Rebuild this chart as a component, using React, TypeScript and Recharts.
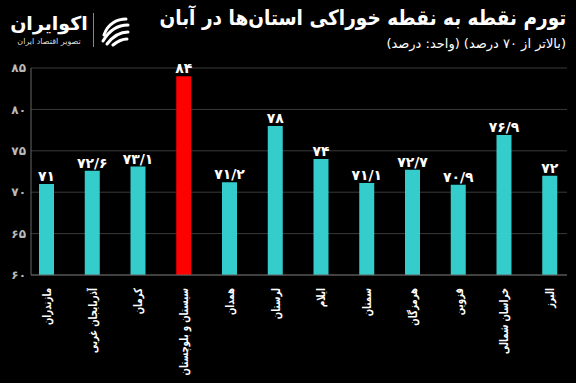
import { BarChart, Bar, XAxis, YAxis, CartesianGrid, Cell, LabelList } from 'recharts'

const provinces = [
  'مازندران',
  'آذربایجان غربی',
  'کرمان',
  'سیستان و بلوچستان',
  'همدان',
  'لرستان',
  'ایلام',
  'سمنان',
  'هرمزگان',
  'قزوین',
  'خراسان شمالی',
  'البرز',
]
const inflation = [71, 72.6, 73.1, 84, 71.2, 78, 74, 71.1, 72.7, 70.9, 76.9, 72]
const yTicks = [60, 65, 70, 75, 80, 85]
const highlight = 'سیستان و بلوچستان'

const TEAL = '#35cccc'
const RED = '#ff0000'
const FONT = '"DejaVu Sans", sans-serif'

// ارقام فارسی، ممیز با «/»
function toFa(v: number | string): string {
  return String(v)
    .replace(/\./g, '/')
    .replace(/[0-9]/g, (d) => '۰۱۲۳۴۵۶۷۸۹'[Number(d)])
}

const data = provinces.map((name, i) => ({ name, value: inflation[i] }))

// برچسب عمودی، کمی فشرده در طول تا نام‌های بلند جا شوند
function ProvinceTick(props: any) {
  const { x, y, payload } = props
  return (
    <text
      transform={`translate(${x},${y + 5}) rotate(-90) scale(0.75,1)`}
      textAnchor="end"
      dominantBaseline="central"
      fill="#ffffff"
      fontSize={11.5}
      fontWeight="bold"
      fontFamily={FONT}
    >
      {payload.value}
    </text>
  )
}

function Logo() {
  return (
    <div style={{ position: 'absolute', left: 8, top: 10, width: 125, height: 40 }}>
      <div
        style={{
          position: 'absolute',
          left: 0,
          top: 0,
          width: 82,
          textAlign: 'center',
          color: '#fff',
          fontFamily: FONT,
          fontWeight: 'bold',
          fontSize: 19,
          lineHeight: '26px',
          direction: 'rtl',
        }}
      >
        اکوایران
      </div>
      <div
        style={{
          position: 'absolute',
          left: 0,
          top: 27,
          width: 82,
          textAlign: 'center',
          color: '#ddd',
          fontFamily: FONT,
          fontSize: 8,
          direction: 'rtl',
        }}
      >
        تصویر اقتصاد ایران
      </div>
      <div style={{ position: 'absolute', left: 85, top: 3, width: 1, height: 34, background: '#888' }} />
      <svg style={{ position: 'absolute', left: 90, top: 3 }} width={34} height={34} viewBox="0 0 34 34">
        <path d="M6 22 C10 10, 20 6, 28 6" stroke="#fff" strokeWidth={3} fill="none" strokeLinecap="round" />
        <path d="M5 28 C12 16, 22 12, 30 12" stroke="#fff" strokeWidth={3} fill="none" strokeLinecap="round" />
        <path d="M9 31 C16 22, 24 19, 30 19" stroke="#fff" strokeWidth={3} fill="none" strokeLinecap="round" />
        <path d="M15 32 C20 28, 26 26, 29 26" stroke="#fff" strokeWidth={3} fill="none" strokeLinecap="round" />
      </svg>
    </div>
  )
}

export default function App() {
  return (
    <div
      style={{
        position: 'absolute',
        left: 0,
        top: 0,
        width: 576,
        height: 383,
        background: '#000',
        overflow: 'hidden',
      }}
    >
      <div
        style={{
          position: 'absolute',
          right: 10,
          top: 6,
          color: '#fff',
          fontFamily: FONT,
          fontWeight: 'bold',
          fontSize: 21,
          direction: 'rtl',
          whiteSpace: 'nowrap',
          transform: 'scaleX(0.88)',
          transformOrigin: 'right center',
        }}
      >
        تورم نقطه به نقطه خوراکی استان‌ها در آبان
      </div>
      <div
        style={{
          position: 'absolute',
          right: 10,
          top: 36,
          color: '#fff',
          fontFamily: FONT,
          fontSize: 13,
          direction: 'rtl',
          whiteSpace: 'nowrap',
        }}
      >
        (بالاتر از ۷۰ درصد) (واحد: درصد)
      </div>
      <Logo />
      <div style={{ position: 'absolute', left: 0, top: 0 }}>
        <BarChart width={576} height={383} data={data} margin={{ top: 68, right: 9, left: 0, bottom: 0 }}>
          <CartesianGrid vertical={false} stroke="#3a3a3a" />
          <XAxis
            dataKey="name"
            interval={0}
            height={108}
            tick={<ProvinceTick />}
            tickLine={false}
            axisLine={{ stroke: '#666' }}
            padding={{ left: -7, right: -6 }}
          />
          <YAxis
            domain={[60, 85]}
            ticks={yTicks}
            width={31}
            tickSize={0}
            tickMargin={5}
            tickFormatter={(v: number) => toFa(v)}
            tick={{ fill: '#bbbbbb', fontSize: 12, fontFamily: FONT, fontWeight: 'bold' }}
            axisLine={{ stroke: '#666' }}
            allowDataOverflow
          />
          <Bar dataKey="value" barSize={15} isAnimationActive={false}>
            {data.map((d) => (
              <Cell key={d.name} fill={d.name === highlight ? RED : TEAL} />
            ))}
            <LabelList
              dataKey="value"
              position="top"
              offset={3}
              formatter={(v: any) => toFa(v)}
              style={{ fill: '#fff', fontSize: 14, fontWeight: 'bold', fontFamily: FONT }}
            />
          </Bar>
        </BarChart>
      </div>
    </div>
  )
}
